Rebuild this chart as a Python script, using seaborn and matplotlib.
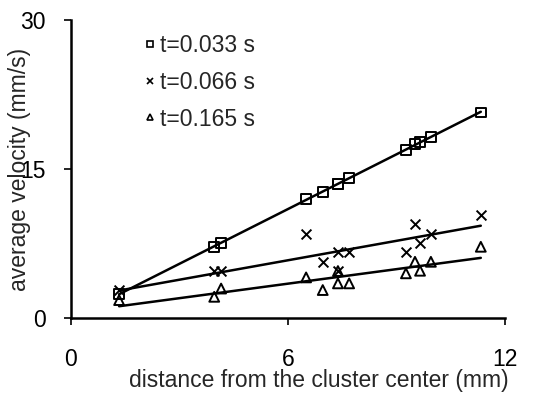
import matplotlib
matplotlib.use("Agg")
import matplotlib.pyplot as plt
from matplotlib.lines import Line2D
import numpy as np
import pandas as pd
import seaborn as sns

sns.set_style("white")
plt.rcParams["font.family"] = ["Liberation Sans", "DejaVu Sans"]

# distance from the cluster center (mm)
distance = [1.33, 3.96, 4.15, 6.50, 6.96, 7.38, 7.38, 7.69, 9.26, 9.51, 9.65, 9.95, 11.33]

# average velocity (mm/s) for each exposure time
vel_033 = [2.45, 7.2, 7.55, 11.97, 12.74, 13.54, 13.54, 14.15, 16.9, 17.5, 17.7, 18.27, 20.7]
vel_066 = [2.85, 4.76, 4.76, 8.48, 5.63, 6.64, 4.76, 6.64, 6.64, 9.45, 7.6, 8.48, 10.39]
vel_165 = [1.84, 2.17, 3.0, 4.12, 2.85, 4.76, 3.52, 3.52, 4.53, 5.69, 4.79, 5.69, 7.2]

labels = ["t=0.033 s", "t=0.066 s", "t=0.165 s"]

df = pd.DataFrame({
    "distance": distance * 3,
    "velocity": vel_033 + vel_066 + vel_165,
    "series": [labels[0]] * len(distance) + [labels[1]] * len(distance) + [labels[2]] * len(distance),
})

FS = 16.5

fig = plt.figure(figsize=(5.35, 3.96), dpi=100)
ax = fig.add_axes([0.1327, 0.196, 0.8113, 0.7535])

markers = {labels[0]: "s", labels[1]: "x", labels[2]: "^"}
for lab in labels:
    sub = df[df["series"] == lab]
    sns.regplot(data=sub, x="distance", y="velocity", ax=ax, scatter=False, ci=None,
                color="black", line_kws={"linewidth": 1.8})
    if markers[lab] == "x":
        sns.scatterplot(data=sub, x="distance", y="velocity", ax=ax, marker="x",
                        color="black", s=50, linewidth=1.4, zorder=3)
    else:
        sns.scatterplot(data=sub, x="distance", y="velocity", ax=ax, marker=markers[lab],
                        facecolor="none", edgecolor="black", s=50, linewidth=1.4, zorder=3)

ax.set_xlim(0, 12)
ax.set_ylim(0, 30)
ax.set_xticks([0, 6, 12])
ax.set_yticks([0, 15, 30])
sns.despine(ax=ax)
for sp in ("left", "bottom"):
    ax.spines[sp].set_linewidth(1.8)
    ax.spines[sp].set_color("black")
ax.tick_params(axis="both", direction="out", length=5, width=1.2, color="black",
               labelsize=FS, labelcolor="black")
ax.tick_params(axis="x", pad=16, bottom=True)
ax.tick_params(axis="y", pad=13, left=True)

ax.set_xlabel("distance from the cluster center (mm)", fontsize=FS)
ax.set_ylabel("average velocity (mm/s)", fontsize=FS)
ax.xaxis.set_label_coords(0.571, -0.207)
ax.xaxis.label.set_va("center")
ax.yaxis.set_label_coords(-0.1175, 0.5)
ax.yaxis.label.set_va("center")

handles = [
    Line2D([], [], linestyle="none", marker="s", markerfacecolor="none",
           markeredgecolor="black", markersize=5, markeredgewidth=1.2),
    Line2D([], [], linestyle="none", marker="x", color="black",
           markersize=5, markeredgewidth=1.2),
    Line2D([], [], linestyle="none", marker="^", markerfacecolor="none",
           markeredgecolor="black", markersize=5, markeredgewidth=1.2),
]
ax.legend(handles, labels, loc="upper left", bbox_to_anchor=(144 / 535, 1 - 34 / 396),
          bbox_transform=fig.transFigure, frameon=False, fontsize=FS,
          handlelength=0.5, handletextpad=0.2, labelspacing=0.6, borderpad=0,
          borderaxespad=0)

fig.savefig("out.png", dpi=100)
